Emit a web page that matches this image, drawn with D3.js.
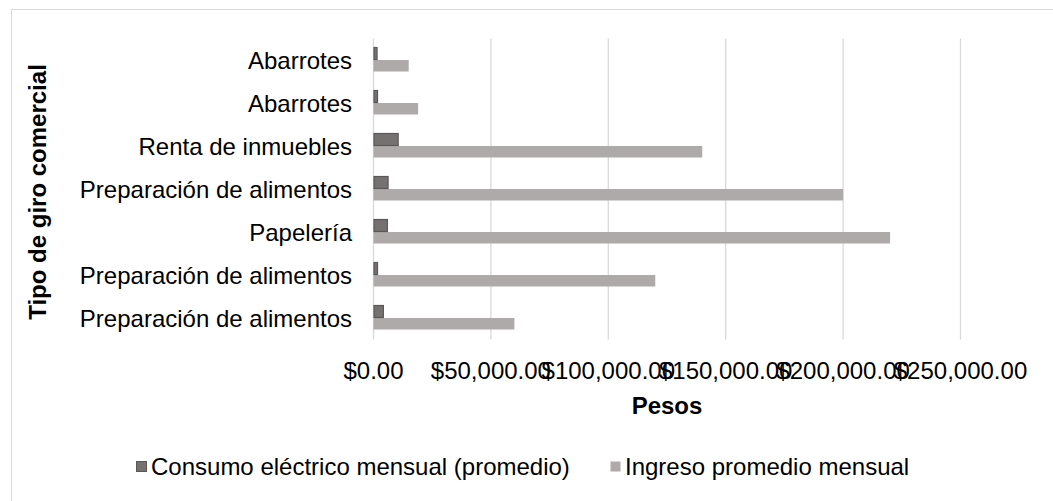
<!DOCTYPE html>
<html>
<head>
<meta charset="utf-8">
<script src="https://cdn.jsdelivr.net/npm/d3@7"></script>
<style>
	body { margin: 0; background: #fff; }
	text { font-family: "Liberation Sans", Arial, sans-serif; fill: #000; }
</style>
</head>
<body>
<div id="chart"></div>
<script>
// categories, bottom to top as in the picture
const categories = [
	"Preparación de alimentos",
	"Preparación de alimentos",
	"Papelería",
	"Preparación de alimentos",
	"Renta de inmuebles",
	"Abarrotes",
	"Abarrotes"
];
const consumo = [4000, 1500, 5700, 6000, 10300, 1500, 1300];
const ingreso = [60000, 120000, 220000, 200000, 140000, 19000, 15000];
const ticks = [0, 50000, 100000, 150000, 200000, 250000];
const seriesNames = ["Consumo eléctrico mensual (promedio)", "Ingreso promedio mensual"];

const width = 1053;
const height = 501;
const margin = { left: 373.5, top: 38.5, bottom: 501 - 339.5 };

const svg = d3.select("#chart")
	.append("svg")
	.attr("width", width)
	.attr("height", height);

// outer chart border
svg.append("rect")
	.attr("x", 11.5)
	.attr("y", 9.5)
	.attr("width", width + 20)
	.attr("height", height + 20)
	.attr("fill", "none")
	.attr("stroke", "#d9d9d9")
	.attr("stroke-width", 1);

const x = d3.scaleLinear()
	.domain([0, 250000])
	.range([margin.left, margin.left + 117.4 * 5]);

const rows = d3.range(categories.length);
const y = d3.scaleBand()
	.domain(rows)
	.range([height - margin.bottom, margin.top]);

// gridlines
svg.append("g")
	.selectAll("line")
	.data(ticks)
	.enter()
	.append("line")
	.attr("x1", (d) => x(d))
	.attr("x2", (d) => x(d))
	.attr("y1", margin.top)
	.attr("y2", height - margin.bottom)
	.attr("stroke", "#d9d9d9")
	.attr("stroke-width", 1.3);

// x tick labels (they overlap in the original too)
svg.append("g")
	.selectAll("text")
	.data(ticks)
	.enter()
	.append("text")
	.attr("x", (d) => x(d))
	.attr("y", 378.5)
	.attr("text-anchor", "middle")
	.style("font-size", "24px")
	.text((d) => "$" + d3.format(",.2f")(d));

// category labels
svg.append("g")
	.selectAll("text")
	.data(rows)
	.enter()
	.append("text")
	.attr("x", 352)
	.attr("y", (d) => y(d) + y.bandwidth() / 2 + 8.5)
	.attr("text-anchor", "end")
	.style("font-size", "24px")
	.text((d) => categories[d]);

// ingreso bars (lower half)
svg.append("g")
	.selectAll("rect")
	.data(rows)
	.enter()
	.append("rect")
	.attr("x", x(0))
	.attr("y", (d) => y(d) + y.bandwidth() / 2)
	.attr("width", (d) => x(ingreso[d]) - x(0))
	.attr("height", 11.5)
	.attr("fill", "#aeaaaa");

// consumo bars (upper half)
svg.append("g")
	.selectAll("rect")
	.data(rows)
	.enter()
	.append("rect")
	.attr("x", x(0) + 0.5)
	.attr("y", (d) => y(d) + y.bandwidth() / 2 - 12.5)
	.attr("width", (d) => x(consumo[d]) - x(0))
	.attr("height", 12)
	.attr("fill", "#767171")
	.attr("stroke", "#595959")
	.attr("stroke-width", 1.2);

// axis titles
svg.append("text")
	.attr("x", (x(0) + x(250000)) / 2)
	.attr("y", 414)
	.attr("text-anchor", "middle")
	.style("font-size", "24px")
	.style("font-weight", "bold")
	.text("Pesos");

svg.append("text")
	.attr("transform", "translate(46," + 192 + ") rotate(-90)")
	.attr("text-anchor", "middle")
	.style("font-size", "24px")
	.style("font-weight", "bold")
	.text("Tipo de giro comercial");

// legend
const legend = svg.append("g");
const legendX = [136, 610];
const legendFill = ["#767171", "#aeaaaa"];
const legendStroke = ["#595959", "none"];
legend.selectAll("rect")
	.data(seriesNames)
	.enter()
	.append("rect")
	.attr("x", (d, i) => legendX[i] + 0.5)
	.attr("y", 461.5)
	.attr("width", 10)
	.attr("height", 10)
	.attr("fill", (d, i) => legendFill[i])
	.attr("stroke", (d, i) => legendStroke[i]);
legend.selectAll("text")
	.data(seriesNames)
	.enter()
	.append("text")
	.attr("x", (d, i) => legendX[i] + 15)
	.attr("y", 475)
	.style("font-size", "24px")
	.text((d) => d);
</script>
</body>
</html>
